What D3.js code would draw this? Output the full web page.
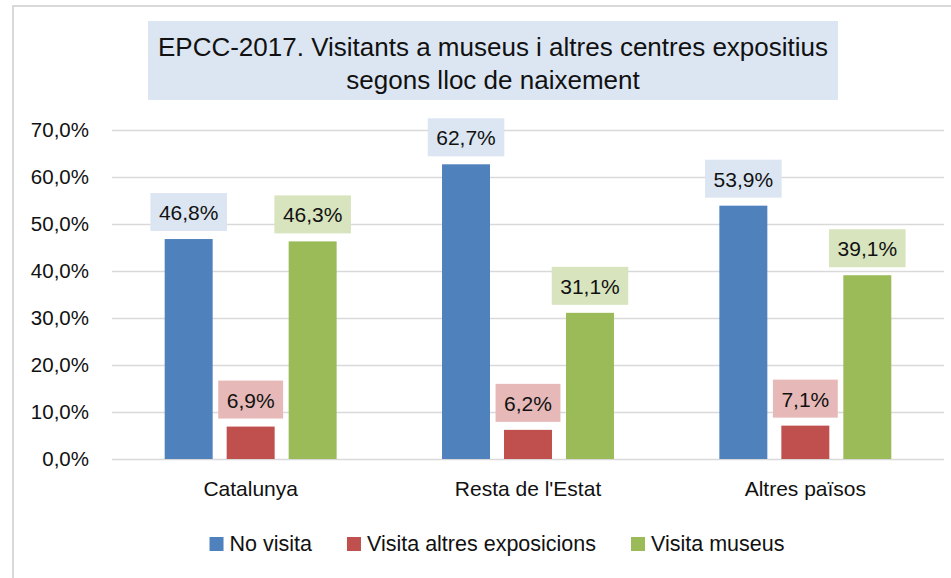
<!DOCTYPE html>
<html>
<head>
<meta charset="utf-8">
<script src="https://cdnjs.cloudflare.com/ajax/libs/d3/7.8.5/d3.min.js"></script>
<style>
  body { margin: 0; background: #fff; }
  text { font-family: "Liberation Sans", Arial, sans-serif; fill: #111; }
</style>
</head>
<body>
<script>
// Width and Height of the whole visualization
var width = 951;
var height = 578;

// chart data
var categories = ["Catalunya", "Resta de l'Estat", "Altres països"];
var series = ["No visita", "Visita altres exposicions", "Visita museus"];
var noVisita = [46.8, 62.7, 53.9];
var altresExpo = [6.9, 6.2, 7.1];
var museus = [46.3, 31.1, 39.1];
var yTicks = [0, 10, 20, 30, 40, 50, 60, 70];
var titleLines = ["EPCC-2017. Visitants a museus i altres centres expositius", "segons lloc de naixement"];

var values = [noVisita, altresExpo, museus];
var barColors = ["#4f81bd", "#c0504d", "#9bbb59"];
var labelColors = ["#dce6f2", "#e6b9b8", "#d7e4bd"];

var fmt = function ( v ) {
  return v.toFixed( 1 ).replace( ".", "," ) + "%";
};

// Create SVG
var svg = d3.select( "body" )
    .append( "svg" )
    .attr( "width", width )
    .attr( "height", height );

// chart frame (right and bottom edges fall outside the picture)
svg.append( "rect" )
    .attr( "x", 13 )
    .attr( "y", 6 )
    .attr( "width", 960 )
    .attr( "height", 600 )
    .attr( "fill", "#fff" )
    .attr( "stroke", "#d9d9d9" )
    .attr( "stroke-width", 2 );

// title box
svg.append( "rect" )
    .attr( "x", 148 )
    .attr( "y", 21 )
    .attr( "width", 690 )
    .attr( "height", 79 )
    .attr( "fill", "#dce6f2" );

svg.selectAll( ".title" )
    .data( titleLines )
    .enter()
    .append( "text" )
    .attr( "class", "title" )
    .attr( "x", 493 )
    .attr( "y", function ( d, i ) { return 56 + i * 33; } )
    .attr( "text-anchor", "middle" )
    .style( "font-size", "26px" )
    .text( function ( d ) { return d; } );

// scales
var x0 = d3.scaleBand()
    .domain( categories )
    .range( [112, 944] )
    .paddingInner( 0.38 )
    .paddingOuter( 0.19 );

var x1 = d3.scaleBand()
    .domain( series )
    .range( [0, x0.bandwidth()] )
    .paddingInner( 0.226 );

var y = d3.scaleLinear()
    .domain( [0, 70] )
    .range( [459, 130] );

// gridlines
var g = svg.append( "g" );
g.selectAll( ".grid" )
    .data( yTicks )
    .enter()
    .append( "line" )
    .attr( "x1", 112 )
    .attr( "x2", 944 )
    .attr( "y1", function ( d ) { return Math.round( y( d ) ) + 0.5; } )
    .attr( "y2", function ( d ) { return Math.round( y( d ) ) + 0.5; } )
    .attr( "stroke", "#d9d9d9" )
    .attr( "stroke-width", 1.5 );

// y axis labels
var yAxis = d3.axisLeft( y )
    .tickValues( yTicks )
    .tickSize( 0 )
    .tickPadding( 23 )
    .tickFormat( fmt );

svg.append( "g" )
    .attr( "transform", "translate(112,0)" )
    .call( yAxis )
    .call( function ( a ) { a.select( ".domain" ).remove(); } )
    .selectAll( "text" )
    .style( "font-size", "20.5px" )
    .style( "font-family", "'Liberation Sans', Arial, sans-serif" )
    .attr( "fill", "#111" );

// x axis labels
var xAxis = d3.axisBottom( x0 )
    .tickSize( 0 )
    .tickPadding( 22 );

svg.append( "g" )
    .attr( "transform", "translate(0,459)" )
    .call( xAxis )
    .call( function ( a ) { a.select( ".domain" ).remove(); } )
    .selectAll( "text" )
    .style( "font-size", "21px" )
    .style( "font-family", "'Liberation Sans', Arial, sans-serif" )
    .attr( "fill", "#111" );

// bars
var rows = [];
categories.forEach( function ( c, ci ) {
  series.forEach( function ( s, si ) {
    rows.push( { cat: c, ser: s, si: si, v: values[si][ci] } );
  } );
} );

var bars = svg.append( "g" );
bars.selectAll( "rect" )
    .data( rows )
    .enter()
    .append( "rect" )
    .attr( "x", function ( d ) { return x0( d.cat ) + x1( d.ser ); } )
    .attr( "y", function ( d ) { return y( d.v ); } )
    .attr( "width", x1.bandwidth() )
    .attr( "height", function ( d ) { return y( 0 ) - y( d.v ); } )
    .attr( "fill", function ( d ) { return barColors[d.si]; } );

// data labels with coloured boxes
var labels = svg.append( "g" ).selectAll( "g" )
    .data( rows )
    .enter()
    .append( "g" );

labels.append( "rect" )
    .attr( "fill", function ( d ) { return labelColors[d.si]; } );

labels.append( "text" )
    .attr( "x", function ( d ) { return x0( d.cat ) + x1( d.ser ) + x1.bandwidth() / 2; } )
    .attr( "y", function ( d ) { return y( d.v ) - 19; } )
    .attr( "text-anchor", "middle" )
    .style( "font-size", "21px" )
    .text( function ( d ) { return fmt( d.v ); } );

labels.each( function ( d ) {
  var t = d3.select( this ).select( "text" );
  var w = t.node().getComputedTextLength() + 17;
  var cx = x0( d.cat ) + x1( d.ser ) + x1.bandwidth() / 2;
  d3.select( this ).select( "rect" )
      .attr( "x", cx - w / 2 )
      .attr( "y", y( d.v ) - 46 )
      .attr( "width", w )
      .attr( "height", 38 );
} );

// legend
var legend = svg.append( "g" );
var lx = 0;
series.forEach( function ( s, i ) {
  legend.append( "rect" )
      .attr( "x", lx )
      .attr( "y", 537 )
      .attr( "width", 14 )
      .attr( "height", 14 )
      .attr( "fill", barColors[i] );
  var t = legend.append( "text" )
      .attr( "x", lx + 20 )
      .attr( "y", 551 )
      .style( "font-size", "21.5px" )
      .text( s );
  lx += 20 + t.node().getComputedTextLength() + 35;
} );
lx -= 35;
legend.attr( "transform", "translate(" + ( 497 - lx / 2 ) + ",0)" );
</script>
</body>
</html>
